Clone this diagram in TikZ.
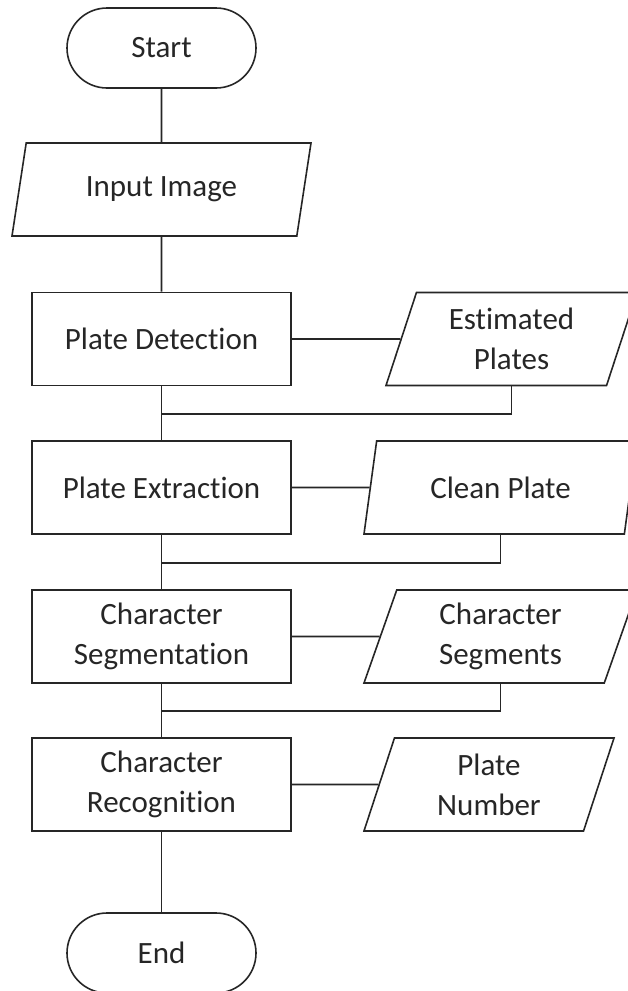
\documentclass[tikz,border=0pt]{standalone}
\usepackage{fontspec}
\setmainfont{Carlito}[Ligatures=NoCommon]
\usetikzlibrary{shapes.geometric}

\tikzset{
  term/.style={draw, line width=1.6pt, rounded corners=40pt, minimum width=189pt, minimum height=80pt},
  proc/.style={draw, line width=1.6pt, minimum width=259pt, minimum height=93pt, align=center},
  io/.style={draw, line width=1.6pt, trapezium, trapezium left angle=66, trapezium right angle=114,
    trapezium stretches body, minimum height=93pt, inner xsep=0pt, align=center},
  link/.style={line width=1.6pt}
}

\begin{document}
\begin{tikzpicture}[x=1pt, y=-1pt, font=\fontsize{31pt}{40pt}\selectfont, color=black!85]
\useasboundingbox (0,0) rectangle (627,991);

\node[term] (start) at (161.5,48) {Start};
\node[io, minimum width=299pt] (input) at (161.5,189.5) {Input Image};
\node[proc] (detect) at (161.5,339) {Plate Detection};
\node[io, minimum width=251pt] (est) at (511.5,339) {Estimated\\Plates};
\node[proc] (extract) at (161.5,487.5) {Plate Extraction};
\node[io, minimum width=273pt] (clean) at (500.5,487.5) {Clean Plate};
\node[proc] (segm) at (161.5,636.5) {Character\\Segmentation};
\node[io, minimum width=273pt] (segs) at (500.5,636.5) {Character\\Segments};
\node[proc] (recog) at (161.5,784.5) {Character\\Recognition};
\node[io, minimum width=250pt] (number) at (489,784.5) {Plate\\Number};
\node[term] (end) at (161.5,953) {End};

% junctions on the main line
\coordinate (j1) at (161.5,414);
\coordinate (j2) at (161.5,563);
\coordinate (j3) at (161.5,711);

\draw[link] (start) -- (input);
\draw[link] (input) -- (detect);
\draw[link] (detect) -- (extract);
\draw[link] (extract) -- (segm);
\draw[link] (segm) -- (recog);
\draw[link] (recog) -- (end);

\draw[link] (detect) -- (est);
\draw[link] (extract) -- (clean);
\draw[link] (segm) -- (segs);
\draw[link] (recog) -- (number);

\draw[link] (est.south) |- (j1);
\draw[link] (clean.south) |- (j2);
\draw[link] (segs.south) |- (j3);
\end{tikzpicture}
\end{document}
